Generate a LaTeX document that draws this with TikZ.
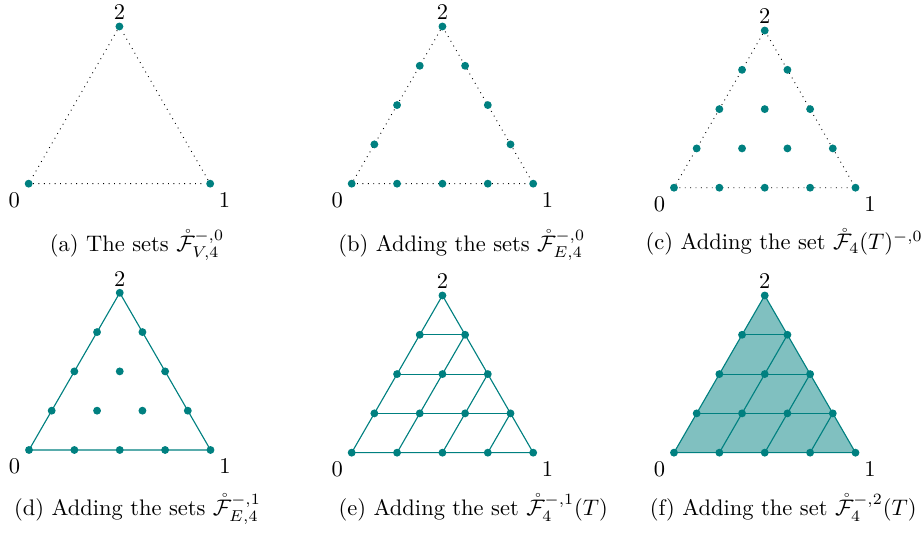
\documentclass[tikz,border=0pt]{standalone}
\usepackage{amsmath,amssymb}
\usepackage{xcolor}
\usepackage{tikz}
\usetikzlibrary{positioning,backgrounds,calc}
\definecolor{cDot}{RGB}{0,128,128}

\begin{document}
\begin{tikzpicture}[font=\normalsize]
\tikzset{
 pt/.style={circle,fill=cDot,inner sep=0,minimum size=3.5pt},
 labz/.style={anchor=north east,inner sep=1pt,xshift=-2.7pt,yshift=-2.8pt},
 labo/.style={anchor=north west,inner sep=1pt,xshift=2.7pt,yshift=-2.8pt},
 labt/.style={anchor=south,inner sep=1pt,yshift=1.7pt},
 dotedge/.style={dotted,black},
 edge/.style={cDot,line width=0.5pt},
 captxt/.style={anchor=base,inner sep=0}
}
\useasboundingbox (0,0) rectangle (14.422,-8.344);

% (a) vertices only
\begin{scope}[shift={(0.448,-2.870)}]
\node[pt] (a-0-0) at (0,0) {};
\node[pt] (a-4-0) at (2.836,0) {};
\node[pt] (a-0-4) at (1.418,2.456) {};
\end{scope}
\node[labz] (a-l0) at (a-0-0) {0};
\node[labo] (a-l1) at (a-4-0) {1};
\node[labt] (a-l2) at (a-0-4) {2};
\begin{pgfonlayer}{background}
\draw[dotedge] (a-0-0) -- (a-4-0) -- (a-0-4) -- (a-0-0);
\end{pgfonlayer}
\node[captxt] (capa) at (2.141,-3.922) {(a) The sets $\mathring{\mathcal{F}}^{-,0}_{V,4}$};

% (b) boundary points
\begin{scope}[shift={(5.495,-2.870)}]
\foreach \i in {0,...,4}{
 \pgfmathtruncatemacro\k{4-\i}
 \foreach \j in {0,...,\k}{
  \pgfmathtruncatemacro\m{(\i==0)||(\j==0)||(\i+\j==4)}
  \ifnum\m=1 \node[pt] (b-\i-\j) at (\i*0.709+\j*0.3545,\j*0.614) {};\fi
 }}
\end{scope}
\node[labz] (b-l0) at (b-0-0) {0};
\node[labo] (b-l1) at (b-4-0) {1};
\node[labt] (b-l2) at (b-0-4) {2};
\begin{pgfonlayer}{background}
\draw[dotedge] (b-0-0.center) -- (b-4-0.center) -- (b-0-4.center) -- cycle;
\end{pgfonlayer}
\node[captxt] (capb) at (7.214,-3.922) {(b) Adding the sets $\mathring{\mathcal{F}}^{-,0}_{E,4}$};

% (c) all points, dotted edges
\begin{scope}[shift={(10.531,-2.933)}]
\foreach \i in {0,...,4}{
 \pgfmathtruncatemacro\k{4-\i}
 \foreach \j in {0,...,\k}
  \node[pt] (c-\i-\j) at (\i*0.709+\j*0.3545,\j*0.614) {};
 }
\end{scope}
\node[labz] (c-l0) at (c-0-0) {0};
\node[labo] (c-l1) at (c-4-0) {1};
\node[labt] (c-l2) at (c-0-4) {2};
\begin{pgfonlayer}{background}
\draw[dotedge] (c-0-0.center) -- (c-4-0.center) -- (c-0-4.center) -- cycle;
\end{pgfonlayer}
\node[captxt] (capc) at (12.253,-3.906) {(c) Adding the set $\mathring{\mathcal{F}}_4(T)^{-,0}$};

% (d) all points, solid edges
\begin{scope}[shift={(0.453,-7.031)}]
\foreach \i in {0,...,4}{
 \pgfmathtruncatemacro\k{4-\i}
 \foreach \j in {0,...,\k}
  \node[pt] (d-\i-\j) at (\i*0.709+\j*0.3545,\j*0.614) {};
 }
\end{scope}
\node[labz] (d-l0) at (d-0-0) {0};
\node[labo] (d-l1) at (d-4-0) {1};
\node[labt] (d-l2) at (d-0-4) {2};
\begin{pgfonlayer}{background}
\draw[edge] (d-0-0.center) -- (d-4-0.center) -- (d-0-4.center) -- cycle;
\end{pgfonlayer}
\node[captxt] (capd) at (2.148,-8.047) {(d) Adding the sets $\mathring{\mathcal{F}}^{-,1}_{E,4}$};

% (e) grid lines
\begin{scope}[shift={(5.495,-7.073)}]
\foreach \i in {0,...,4}{
 \pgfmathtruncatemacro\k{4-\i}
 \foreach \j in {0,...,\k}
  \node[pt] (e-\i-\j) at (\i*0.709+\j*0.3545,\j*0.614) {};
 }
\end{scope}
\node[labz] (e-l0) at (e-0-0) {0};
\node[labo] (e-l1) at (e-4-0) {1};
\node[labt] (e-l2) at (e-0-4) {2};
\begin{pgfonlayer}{background}
\draw[edge] (e-0-0.center) -- (e-4-0.center) -- (e-0-4.center) -- cycle;
\foreach \j in {1,2,3}{
 \pgfmathtruncatemacro\k{4-\j}
 \draw[edge] (e-0-\j.center) -- (e-\k-\j.center);
 \draw[edge] (e-\j-0.center) -- (e-\j-\k.center);
}
\end{pgfonlayer}
\node[captxt] (cape) at (7.396,-8.047) {(e) Adding the set $\mathring{\mathcal{F}}^{-,1}_4(T)$};

% (f) filled cells
\begin{scope}[shift={(10.531,-7.073)}]
\foreach \i in {0,...,4}{
 \pgfmathtruncatemacro\k{4-\i}
 \foreach \j in {0,...,\k}
  \node[pt] (f-\i-\j) at (\i*0.709+\j*0.3545,\j*0.614) {};
 }
\end{scope}
\node[labz] (f-l0) at (f-0-0) {0};
\node[labo] (f-l1) at (f-4-0) {1};
\node[labt] (f-l2) at (f-0-4) {2};
\begin{pgfonlayer}{background}
\fill[cDot!50] (f-0-0.center) -- (f-4-0.center) -- (f-0-4.center) -- cycle;
\draw[edge] (f-0-0.center) -- (f-4-0.center) -- (f-0-4.center) -- cycle;
\foreach \j in {1,2,3}{
 \pgfmathtruncatemacro\k{4-\j}
 \draw[edge] (f-0-\j.center) -- (f-\k-\j.center);
 \draw[edge] (f-\j-0.center) -- (f-\j-\k.center);
}
\end{pgfonlayer}
\node[captxt] (capf) at (12.239,-8.047) {(f) Adding the set $\mathring{\mathcal{F}}^{-,2}_4(T)$};
\end{tikzpicture}
\end{document}
